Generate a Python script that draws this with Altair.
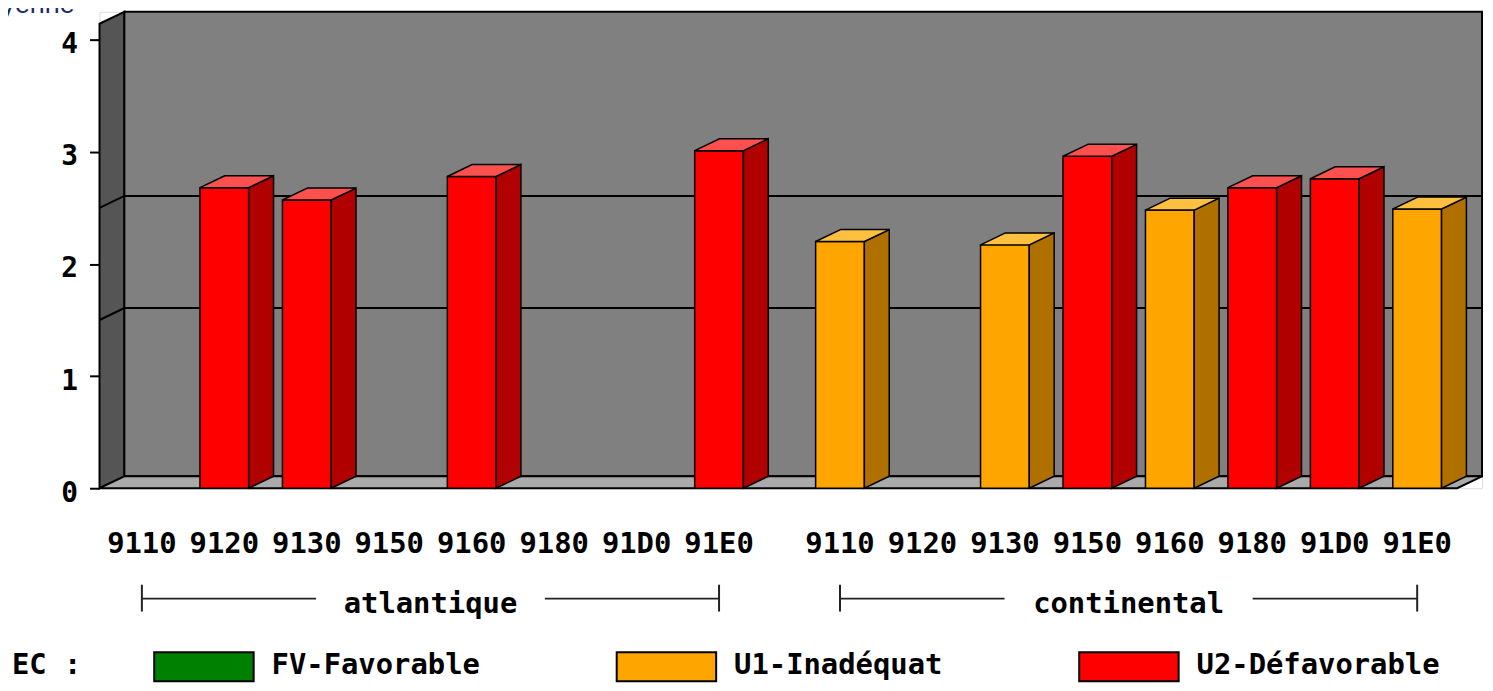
import altair as alt
import pandas as pd

# ---------------- data ----------------
regions = ["atlantique", "continental"]
habitats = ["9110", "9120", "9130", "9150", "9160", "9180", "91D0", "91E0"]
atl_values = [None, 2.68, 2.57, None, 2.78, None, None, 3.01]
atl_status = [None, "U2", "U2", None, "U2", None, None, "U2"]
cont_values = [2.20, None, 2.17, 2.96, 2.48, 2.68, 2.76, 2.49]
cont_status = ["U1", None, "U1", "U2", "U1", "U2", "U2", "U1"]
legend_codes = ["FV", "U1", "U2"]
legend_labels = ["FV-Favorable", "U1-Inadéquat", "U2-Défavorable"]
legend_title = "EC :"
y_title = "Moyenne"
y_ticks = [0, 1, 2, 3, 4]
ref_levels = [1.5, 2.5]

# ---------------- styles / geometry ----------------
FONT = "DejaVu Sans Mono"
FRONT = {"FV": "#008000", "U1": "#ffa500", "U2": "#ff0000"}
SIDE = {"FV": "#005000", "U1": "#b07000", "U2": "#b00000"}
TOP = {"FV": "#40a040", "U1": "#ffc040", "U2": "#ff5050"}
BACK_WALL = "#808080"
LEFT_WALL = "#555555"
FLOOR = "#aaaaaa"

W, H = 1390, 479
PX_SLOT = 82.9          # pixels per category slot
PX_UNIT = 112.75        # pixels per value unit
GROUP_GAP = 0.467       # extra slots between the two regions
X0 = -42.6 / PX_SLOT
XMAX = X0 + W / PX_SLOT
YMAX = H / PX_UNIT
DX = 25 / PX_SLOT       # 3-D depth offset (x)
DY = 12 / PX_UNIT       # 3-D depth offset (y)
HW = 24.5 / PX_SLOT     # half width of bar front face

xs = alt.Scale(domain=[X0, XMAX], nice=False, zero=False)
ys = alt.Scale(domain=[0, YMAX], nice=False, zero=False)
y_axis = alt.Axis(
    values=y_ticks, tickSize=10, tickWidth=2, tickColor="black", domain=False,
    grid=False, labelFont=FONT, labelFontSize=28, labelFontWeight="bold",
    labelColor="black", labelPadding=12, labelOffset=5, title=None, format="d")


def X(f):
    return alt.X(f, scale=xs, axis=None)


def Y(f):
    return alt.Y(f, scale=ys, axis=y_axis, stack=None)


def pos(g, i):
    return g * (len(habitats) + GROUP_GAP) + i


# ---------------- tables ----------------
labels_rows = []
bars = []
for g, (vals, stats) in enumerate([(atl_values, atl_status), (cont_values, cont_status)]):
    for i, h in enumerate(habitats):
        p = pos(g, i)
        labels_rows.append({"p": p, "hab": h})
        if vals[i] is not None:
            bars.append({"id": f"{g}-{i}", "p": p, "v": vals[i], "s": stats[i]})
labels_df = pd.DataFrame(labels_rows)

front_df = pd.DataFrame([
    {"id": b["id"], "x": b["p"] - HW, "x2": b["p"] + HW, "y": 0.0, "y2": b["v"], "c": FRONT[b["s"]]}
    for b in bars
])
side_rows, top_rows = [], []
for b in bars:
    xr = b["p"] + HW
    side_rows += [
        {"id": b["id"], "x": xr, "y": b["v"], "y2": 0.0, "c": SIDE[b["s"]]},
        {"id": b["id"], "x": xr + DX, "y": b["v"] + DY, "y2": DY, "c": SIDE[b["s"]]},
    ]
    top_rows += [
        {"id": b["id"], "y": b["v"], "x": b["p"] - HW, "x2": b["p"] + HW, "c": TOP[b["s"]]},
        {"id": b["id"], "y": b["v"] + DY, "x": b["p"] - HW + DX, "x2": b["p"] + HW + DX, "c": TOP[b["s"]]},
    ]
side_df = pd.DataFrame(side_rows)
top_df = pd.DataFrame(top_rows)

# walls
left_wall = alt.Chart(pd.DataFrame({
    "x": [X0, X0 + DX], "y": [0.0, DY], "y2": [YMAX - DY, YMAX]
})).mark_area(fill=LEFT_WALL, stroke="black", strokeWidth=2).encode(
    x=X("x:Q"), y=Y("y:Q"), y2="y2:Q")
back_wall = alt.Chart(pd.DataFrame({
    "x": [X0 + DX], "x2": [XMAX], "y": [DY], "y2": [YMAX]
})).mark_rect(fill=BACK_WALL, stroke="black", strokeWidth=2).encode(
    x=X("x:Q"), x2="x2:Q", y=Y("y:Q"), y2="y2:Q")
floor = alt.Chart(pd.DataFrame({
    "y": [0.0, DY], "x": [X0, X0 + DX], "x2": [XMAX - DX, XMAX]
})).mark_area(orient="horizontal", fill=FLOOR, stroke="black", strokeWidth=2).encode(
    y=Y("y:Q"), x=X("x:Q"), x2="x2:Q")

ref_rows = []
for k, lv in enumerate(ref_levels):
    ref_rows += [
        {"k": k, "o": 0, "x": X0, "y": lv},
        {"k": k, "o": 1, "x": X0 + DX, "y": lv + DY},
        {"k": k, "o": 2, "x": XMAX, "y": lv + DY},
    ]
ref_lines = alt.Chart(pd.DataFrame(ref_rows)).mark_line(color="black", strokeWidth=2).encode(
    x=X("x:Q"), y=Y("y:Q"), detail="k:N", order="o:Q")

fronts = alt.Chart(front_df).mark_rect(stroke="black", strokeWidth=1.5).encode(
    x=X("x:Q"), x2="x2:Q", y=Y("y:Q"), y2="y2:Q", fill=alt.Fill("c:N", scale=None))
sides = alt.Chart(side_df).mark_area(stroke="black", strokeWidth=1.5).encode(
    x=X("x:Q"), y=Y("y:Q"), y2="y2:Q", detail="id:N", fill=alt.Fill("c:N", scale=None))
tops = alt.Chart(top_df).mark_area(orient="horizontal", stroke="black", strokeWidth=1.5).encode(
    y=Y("y:Q"), x=X("x:Q"), x2="x2:Q", detail="id:N", fill=alt.Fill("c:N", scale=None))

# category labels
cat_text = alt.Chart(labels_df).mark_text(
    font=FONT, fontSize=29, fontWeight="bold", align="center", baseline="middle", color="black"
).encode(x=X("p:Q"), y=alt.value(535), text="hab:N")

# region brackets
seg_rows, tick_rows, reg_rows = [], [], []
for g, r in enumerate(regions):
    first, last = pos(g, 0), pos(g, len(habitats) - 1)
    c = (first + last) / 2
    gap = (len(r) * 9.7 + 18) / PX_SLOT
    seg_rows += [{"x": first, "x2": c - gap}, {"x": c + gap, "x2": last}]
    tick_rows += [{"x": first}, {"x": last}]
    reg_rows.append({"x": c, "r": r})
segs = alt.Chart(pd.DataFrame(seg_rows)).mark_rule(color="#222222", strokeWidth=2).encode(
    x=X("x:Q"), x2="x2:Q", y=alt.value(590))
ticks = alt.Chart(pd.DataFrame(tick_rows)).mark_rule(color="#222222", strokeWidth=2).encode(
    x=X("x:Q"), y=alt.value(576), y2=alt.value(603))
reg_text = alt.Chart(pd.DataFrame(reg_rows)).mark_text(
    font=FONT, fontSize=29, fontWeight="bold", align="center", baseline="middle", color="black"
).encode(x=X("x:Q"), y=alt.value(595), text="r:N")

one = pd.DataFrame({"a": [0]})

# y title, mostly above the visible page as in the reference
y_title_text = alt.Chart(one).mark_text(
    font="Liberation Sans", fontSize=27, align="right", baseline="alphabetic",
    color="#1f2a6e", text=y_title
).encode(x=alt.value(-25), y=alt.value(1))

# legend (drawn manually, bottom row)
LEG_Y = 657
leg_layers = [
    alt.Chart(one).mark_text(font=FONT, fontSize=29, fontWeight="bold", align="left",
                             baseline="middle", color="black", text=legend_title).encode(
        x=alt.value(-88), y=alt.value(LEG_Y))
]
for k, (code, lab) in enumerate(zip(legend_codes, legend_labels)):
    lx = 55 + k * 465
    leg_layers.append(alt.Chart(one).mark_rect(fill=FRONT[code], stroke="black", strokeWidth=2).encode(
        x=alt.value(lx), x2=alt.value(lx + 100), y=alt.value(LEG_Y - 13), y2=alt.value(LEG_Y + 16)))
    leg_layers.append(alt.Chart(one).mark_text(font=FONT, fontSize=29, fontWeight="bold", align="left",
                                               baseline="middle", color="black", text=lab).encode(
        x=alt.value(lx + 118), y=alt.value(LEG_Y)))

chart = alt.layer(
    left_wall, back_wall, floor, ref_lines, fronts, sides, tops,
    cat_text, segs, ticks, reg_text, y_title_text, *leg_layers
).properties(
    width=W, height=H,
    autosize=alt.AutoSizeParams(type="none"),
    padding={"left": 92, "top": 2, "right": 3, "bottom": 194},
).configure_view(stroke=None).configure(background="white")

chart.save("out.html", embed_options={"renderer": "svg", "actions": False})
